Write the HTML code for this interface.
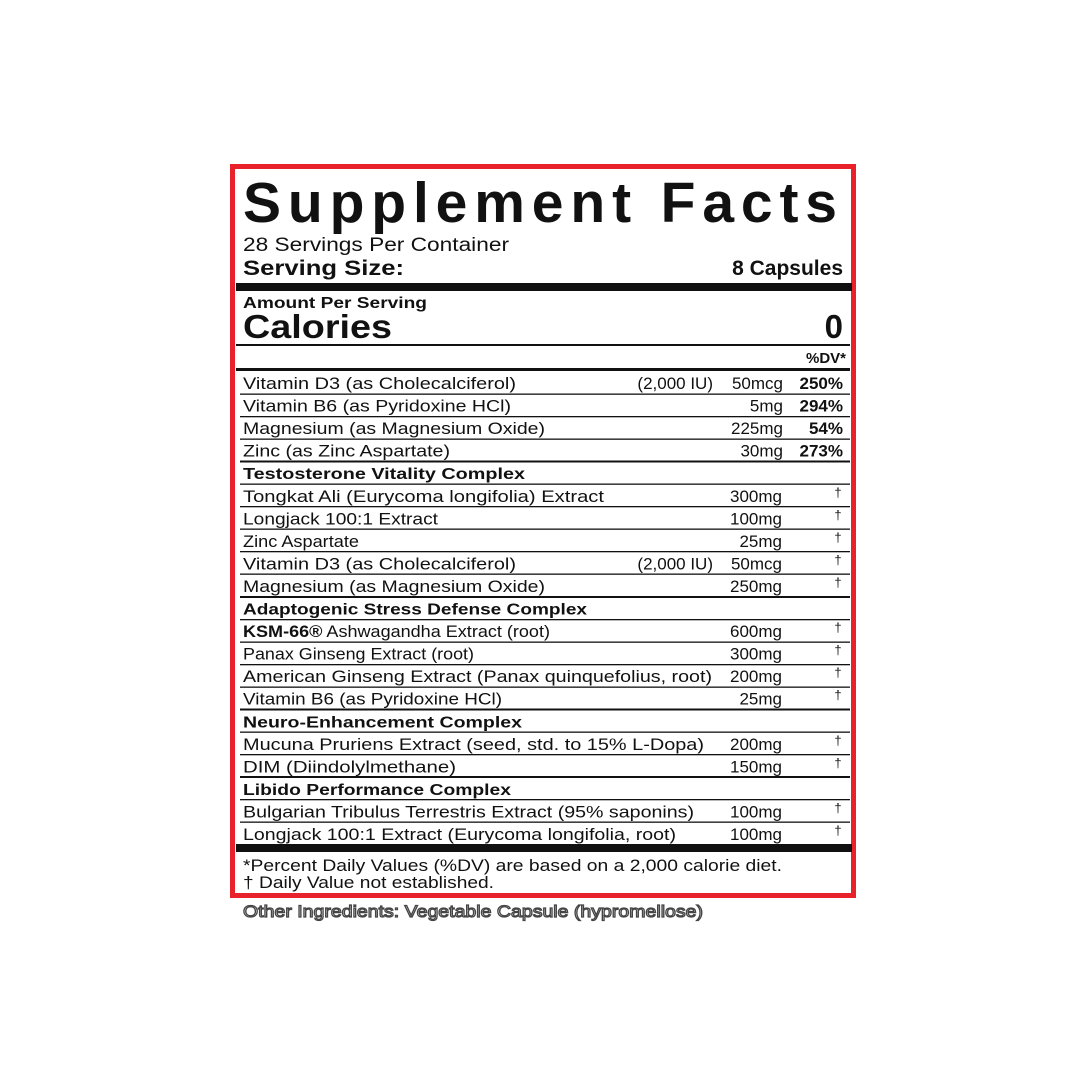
<!DOCTYPE html>
<html><head><meta charset="utf-8"><style>
html,body{margin:0;padding:0;background:#fff;width:1080px;height:1080px;overflow:hidden}
svg{display:block}
text{font-family:"Liberation Sans",sans-serif;fill:#111}
.r{font-size:17px}
.b{font-weight:bold;font-size:16px}
.d{font-size:13px}
</style></head><body>
<svg width="1080" height="1080" viewBox="0 0 1080 1080" xmlns="http://www.w3.org/2000/svg">
<rect x="0" y="0" width="1080" height="1080" fill="#fff"/>
<rect x="232.5" y="166.5" width="621" height="729" fill="#fff" stroke="#e8212a" stroke-width="5"/>
<text x="243" y="222" font-size="57" font-weight="bold" textLength="594" lengthAdjust="spacing">Supplement Facts</text>
<text x="243" y="251" font-size="19" textLength="266" lengthAdjust="spacingAndGlyphs">28 Servings Per Container</text>
<text x="243" y="275" font-size="21" font-weight="bold" textLength="161" lengthAdjust="spacingAndGlyphs">Serving Size:</text>
<text x="843" y="275" font-size="21" font-weight="bold" text-anchor="end">8 Capsules</text>
<rect x="236" y="283" width="616" height="8" fill="#111"/>
<text x="243" y="308" font-size="16" font-weight="bold" textLength="184" lengthAdjust="spacingAndGlyphs">Amount Per Serving</text>
<text x="243" y="338" font-size="33" font-weight="bold" textLength="149" lengthAdjust="spacingAndGlyphs">Calories</text>
<text x="843" y="338" font-size="33" font-weight="bold" text-anchor="end">0</text>
<rect x="236" y="344" width="614" height="2" fill="#111"/>
<text x="846" y="363" font-size="15" font-weight="bold" text-anchor="end">%DV*</text>
<rect x="236" y="368" width="614" height="3" fill="#111"/>

<g fill="#111">
<rect x="240" y="393.5" width="610" height="1.3"/>
<rect x="240" y="416" width="610" height="1.3"/>
<rect x="240" y="438.5" width="610" height="1.3"/>
<rect x="240" y="460.5" width="610" height="2"/>
<rect x="240" y="483.5" width="610" height="1.3"/>
<rect x="240" y="506" width="610" height="1.3"/>
<rect x="240" y="528.5" width="610" height="1.3"/>
<rect x="240" y="551" width="610" height="1.3"/>
<rect x="240" y="573.5" width="610" height="1.3"/>
<rect x="240" y="596" width="610" height="2"/>
<rect x="240" y="619" width="610" height="1.3"/>
<rect x="240" y="641.5" width="610" height="1.3"/>
<rect x="240" y="664" width="610" height="1.3"/>
<rect x="240" y="686.5" width="610" height="1.3"/>
<rect x="240" y="708.5" width="610" height="2"/>
<rect x="240" y="731.5" width="610" height="1.3"/>
<rect x="240" y="754" width="610" height="1.3"/>
<rect x="240" y="776" width="610" height="2"/>
<rect x="240" y="799" width="610" height="1.3"/>
<rect x="240" y="821.5" width="610" height="1.3"/>
</g>

<text class="r" x="243" y="389" textLength="273" lengthAdjust="spacingAndGlyphs">Vitamin D3 (as Cholecalciferol)</text>
<text class="r" x="713" y="389" text-anchor="end">(2,000 IU)</text>
<text class="r" x="783" y="389" text-anchor="end">50mcg</text>
<text class="r" x="843" y="389" text-anchor="end" font-weight="bold">250%</text>

<text class="r" x="243" y="411.6" textLength="268" lengthAdjust="spacingAndGlyphs">Vitamin B6 (as Pyridoxine HCl)</text>
<text class="r" x="783" y="411.6" text-anchor="end">5mg</text>
<text class="r" x="843" y="411.6" text-anchor="end" font-weight="bold">294%</text>

<text class="r" x="243" y="434.1" textLength="302" lengthAdjust="spacingAndGlyphs">Magnesium (as Magnesium Oxide)</text>
<text class="r" x="783" y="434.1" text-anchor="end">225mg</text>
<text class="r" x="843" y="434.1" text-anchor="end" font-weight="bold">54%</text>

<text class="r" x="243" y="456.7" textLength="207" lengthAdjust="spacingAndGlyphs">Zinc (as Zinc Aspartate)</text>
<text class="r" x="783" y="456.7" text-anchor="end">30mg</text>
<text class="r" x="843" y="456.7" text-anchor="end" font-weight="bold">273%</text>

<text class="b" x="243" y="479.2" textLength="282" lengthAdjust="spacingAndGlyphs">Testosterone Vitality Complex</text>

<text class="r" x="243" y="501.8" textLength="361" lengthAdjust="spacingAndGlyphs">Tongkat Ali (Eurycoma longifolia) Extract</text>
<text class="r" x="782" y="501.8" text-anchor="end">300mg</text>
<text class="d" x="838" y="497" text-anchor="middle">†</text>

<text class="r" x="243" y="524.3" textLength="195" lengthAdjust="spacingAndGlyphs">Longjack 100:1 Extract</text>
<text class="r" x="782" y="524.3" text-anchor="end">100mg</text>
<text class="d" x="838" y="519.5" text-anchor="middle">†</text>

<text class="r" x="243" y="546.9" textLength="116" lengthAdjust="spacingAndGlyphs">Zinc Aspartate</text>
<text class="r" x="782" y="546.9" text-anchor="end">25mg</text>
<text class="d" x="838" y="542" text-anchor="middle">†</text>

<text class="r" x="243" y="569.4" textLength="273" lengthAdjust="spacingAndGlyphs">Vitamin D3 (as Cholecalciferol)</text>
<text class="r" x="713" y="569.4" text-anchor="end">(2,000 IU)</text>
<text class="r" x="782" y="569.4" text-anchor="end">50mcg</text>
<text class="d" x="838" y="564.5" text-anchor="middle">†</text>

<text class="r" x="243" y="592" textLength="302" lengthAdjust="spacingAndGlyphs">Magnesium (as Magnesium Oxide)</text>
<text class="r" x="782" y="592" text-anchor="end">250mg</text>
<text class="d" x="838" y="587" text-anchor="middle">†</text>

<text class="b" x="243" y="614.5" textLength="344" lengthAdjust="spacingAndGlyphs">Adaptogenic Stress Defense Complex</text>

<text class="r" x="243" y="637.1" textLength="307" lengthAdjust="spacingAndGlyphs"><tspan font-weight="bold">KSM-66®</tspan> Ashwagandha Extract (root)</text>
<text class="r" x="782" y="637.1" text-anchor="end">600mg</text>
<text class="d" x="838" y="632" text-anchor="middle">†</text>

<text class="r" x="243" y="659.6" textLength="231" lengthAdjust="spacingAndGlyphs">Panax Ginseng Extract (root)</text>
<text class="r" x="782" y="659.6" text-anchor="end">300mg</text>
<text class="d" x="838" y="654.5" text-anchor="middle">†</text>

<text class="r" x="243" y="682.2" textLength="469" lengthAdjust="spacingAndGlyphs">American Ginseng Extract (Panax quinquefolius, root)</text>
<text class="r" x="782" y="682.2" text-anchor="end">200mg</text>
<text class="d" x="838" y="677" text-anchor="middle">†</text>

<text class="r" x="243" y="704.7" textLength="259" lengthAdjust="spacingAndGlyphs">Vitamin B6 (as Pyridoxine HCl)</text>
<text class="r" x="782" y="704.7" text-anchor="end">25mg</text>
<text class="d" x="838" y="699.5" text-anchor="middle">†</text>

<text class="b" x="243" y="727.3" textLength="279" lengthAdjust="spacingAndGlyphs">Neuro-Enhancement Complex</text>

<text class="r" x="243" y="749.8" textLength="461" lengthAdjust="spacingAndGlyphs">Mucuna Pruriens Extract (seed, std. to 15% L-Dopa)</text>
<text class="r" x="782" y="749.8" text-anchor="end">200mg</text>
<text class="d" x="838" y="745" text-anchor="middle">†</text>

<text class="r" x="243" y="772.4" textLength="213" lengthAdjust="spacingAndGlyphs">DIM (Diindolylmethane)</text>
<text class="r" x="782" y="772.4" text-anchor="end">150mg</text>
<text class="d" x="838" y="767.5" text-anchor="middle">†</text>

<text class="b" x="243" y="794.9" textLength="268" lengthAdjust="spacingAndGlyphs">Libido Performance Complex</text>

<text class="r" x="243" y="817.5" textLength="451" lengthAdjust="spacingAndGlyphs">Bulgarian Tribulus Terrestris Extract (95% saponins)</text>
<text class="r" x="782" y="817.5" text-anchor="end">100mg</text>
<text class="d" x="838" y="812.5" text-anchor="middle">†</text>

<text class="r" x="243" y="840" textLength="433" lengthAdjust="spacingAndGlyphs">Longjack 100:1 Extract (Eurycoma longifolia, root)</text>
<text class="r" x="782" y="840" text-anchor="end">100mg</text>
<text class="d" x="838" y="835" text-anchor="middle">†</text>

<rect x="236" y="844" width="616" height="8" fill="#111"/>
<text class="r" x="243" y="871" textLength="539" lengthAdjust="spacingAndGlyphs">*Percent Daily Values (%DV) are based on a 2,000 calorie diet.</text>
<text class="r" x="243" y="888" textLength="251" lengthAdjust="spacingAndGlyphs">† Daily Value not established.</text>
<text x="243" y="917" font-size="17" textLength="460" lengthAdjust="spacingAndGlyphs" style="fill:#fff;stroke:#444;stroke-width:1.2px">Other Ingredients: Vegetable Capsule (hypromellose)</text>
</svg>
</body></html>
